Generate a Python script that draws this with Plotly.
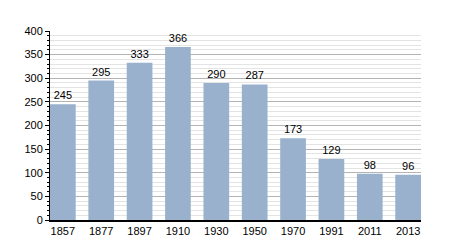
import plotly.graph_objects as go

years = ["1857", "1877", "1897", "1910", "1930", "1950", "1970", "1991", "2011", "2013"]
population = [245, 295, 333, 366, 290, 287, 173, 129, 98, 96]

fig = go.Figure(go.Bar(
    x=years, y=population,
    marker=dict(color="#99b1cd", line=dict(width=0)),
    text=[str(v) for v in population], textposition="outside",
    textfont=dict(family="Liberation Sans, Arial", size=11, color="#000"),
    cliponaxis=False,
))
fig.update_layout(
    width=450, height=250,
    margin=dict(l=50, r=29, t=31, b=30),
    paper_bgcolor="white", plot_bgcolor="white",
    bargap=0.33, showlegend=False,
    font=dict(family="Liberation Sans, Arial", size=11, color="#000"),
)
fig.update_yaxes(
    range=[0, 400], dtick=50, tick0=0,
    showgrid=True, gridcolor="#b4b4b4", gridwidth=1,
    minor=dict(dtick=10, showgrid=True, gridcolor="#e4e4e4", gridwidth=1,
               ticks="outside", ticklen=2, tickcolor="#000"),
    ticks="outside", ticklen=4, tickcolor="#000",
    showline=True, linecolor="#000", linewidth=1,
    zeroline=False, fixedrange=True,
)
fig.update_xaxes(
    range=[-0.335, 9.335],
    showline=True, linecolor="#000", linewidth=1.5,
    ticks="", showgrid=False,
)
fig.write_html("out.html")
